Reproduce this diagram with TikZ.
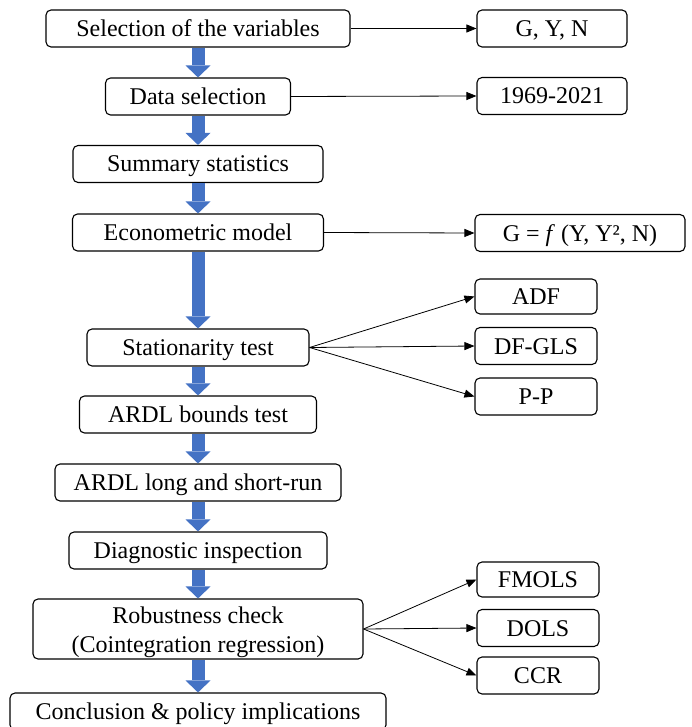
\documentclass[tikz,border=0pt]{standalone}
\usepackage{fontspec}
\setmainfont{Liberation Serif}
\usetikzlibrary{arrows.meta}
\definecolor{flowblue}{RGB}{68,114,196}

\begin{document}
\begin{tikzpicture}[x=1pt, y=-1pt,
    stage/.style={draw, rounded corners=5pt, line width=1.1pt, minimum height=37pt,
        inner sep=0pt, align=center, text height=20pt, text depth=4pt,
        font=\fontsize{24}{29}\selectfont},
    flow/.style={flowblue, line width=13pt, -{Triangle[length=12pt, width=25pt, line width=0pt]}},
    link/.style={line width=0.8pt, -{Triangle[length=10pt, width=8pt]}}]
    \useasboundingbox (0,0) rectangle (691,727);

    % main steps
    \node[stage, minimum width=304pt] (sel) at (198,28.5) {Selection of the variables};
    \node[stage, minimum width=185pt] (data) at (198,96.5) {Data selection};
    \node[stage, minimum width=250pt] (summ) at (198,164) {Summary statistics};
    \node[stage, minimum width=251pt] (econ) at (198,232.5) {Econometric model};
    \node[stage, minimum width=222pt] (stat) at (198,347.5) {Stationarity test};
    \node[stage, minimum width=237pt] (bounds) at (198,414.5) {ARDL bounds test};
    \node[stage, minimum width=286pt] (long) at (198,482.5) {ARDL long and short-run};
    \node[stage, minimum width=258pt] (diag) at (198,550.5) {Diagnostic inspection};
    \node[stage, minimum width=330pt, minimum height=60pt, text height=50pt] (robust) at (198,629)
        {Robustness check\\(Cointegration regression)};
    \node[stage, minimum width=376pt] (concl) at (198,711.5) {Conclusion \& policy implications};

    % side boxes
    \node[stage, minimum width=150pt] (gyn) at (552,28.5) {G, Y, N};
    \node[stage, minimum width=150pt] (years) at (552,96) {1969-2021};
    \node[stage, minimum width=210pt] (func) at (580,233) {G = \textit{f} (Y, Y², N)};
    \node[stage, minimum width=122pt, minimum height=35pt] (adf) at (536,296.5) {ADF};
    \node[stage, minimum width=122pt] (dfgls) at (536,346) {DF-GLS};
    \node[stage, minimum width=122pt] (pp) at (536,396.5) {P-P};
    \node[stage, minimum width=122pt, minimum height=35pt] (fmols) at (538,579.5) {FMOLS};
    \node[stage, minimum width=122pt] (dols) at (538,628) {DOLS};
    \node[stage, minimum width=122pt] (ccr) at (538,675.5) {CCR};

    % blue block arrows
    \foreach \a/\b in {sel/data, data/summ, summ/econ, econ/stat, stat/bounds,
        bounds/long, long/diag, diag/robust, robust/concl}
        \draw[flow] (\a) -- (\b);

    % thin arrows
    \draw[link] (sel) -- (gyn);
    \draw[link] (data.east) -- (years.west);
    \draw[link] (econ.east) -- (func.west);
    \foreach \t in {adf, dfgls, pp}
        \draw[link] (stat.east) -- (\t.west);
    \foreach \t in {fmols, dols, ccr}
        \draw[link] (robust.east) -- (\t.west);

\end{tikzpicture}
\end{document}
